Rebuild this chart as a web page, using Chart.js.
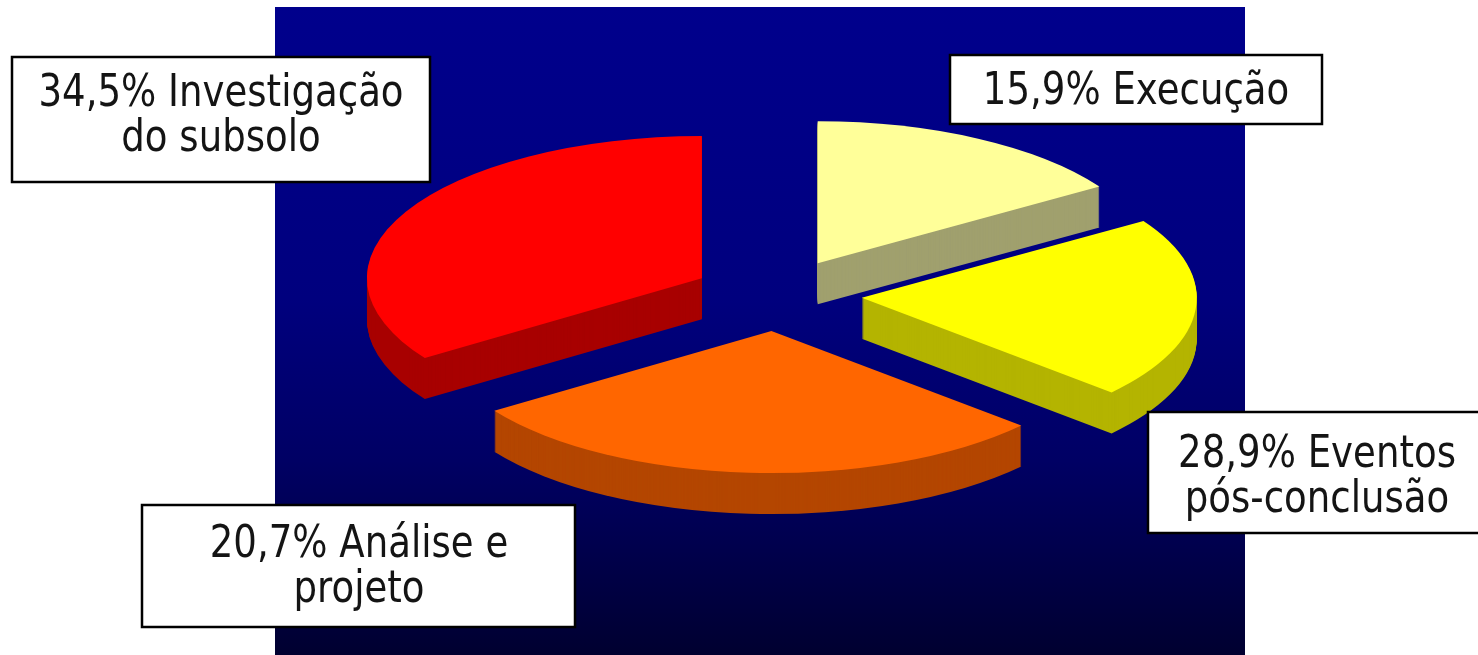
<!DOCTYPE html>
<html>
<head>
<meta charset="utf-8">
<script src="https://cdn.jsdelivr.net/npm/chart.js@4/dist/chart.umd.min.js"></script>
<style>
  html, body { margin: 0; padding: 0; background: #ffffff; }
  #c { display: block; }
</style>
</head>
<body>
<canvas id="c" width="1478" height="655"></canvas>
<script>
// ---- data ----
// slices clockwise from 12 o'clock, as named by the callouts beside them
const categories = ['Execução', 'Eventos\npós-conclusão', 'Análise e\nprojeto', 'Investigação\ndo subsolo'];
// percentages printed in the callouts
const labelShares = [15.9, 28.9, 20.7, 34.5];
// slice sizes as drawn (light yellow, yellow, orange, red)
const drawnShares = [15.9, 20.7, 28.9, 34.5];

// ---- styles ----
const topColors  = ['#FFFF99', '#FFFF00', '#FF6600', '#FF0000'];
const sideColors = ['#A0A06E', '#B4B400', '#B44600', '#A80000'];
const calloutBoxes = [
  { x: 950,  y: 55,  w: 372, h: 69,  cx: 1136, base: [104] },
  { x: 1148, y: 412, w: 345, h: 121, cx: 1317, base: [467, 512] },
  { x: 142,  y: 505, w: 433, h: 122, cx: 359,  base: [557, 602] },
  { x: 12,   y: 57,  w: 418, h: 125, cx: 221,  base: [106, 151] }
];

function fmtPct(v) { return v.toFixed(1).replace('.', ',') + '%'; }

const backgroundPanel = {
  id: 'backgroundPanel',
  beforeDraw(chart) {
    const ctx = chart.ctx;
    ctx.save();
    ctx.fillStyle = '#ffffff';
    ctx.fillRect(0, 0, chart.width, chart.height);
    const top = 7, left = 275, right = 1245, bottom = chart.height;
    const g = ctx.createLinearGradient(0, top, 0, bottom);
    g.addColorStop(0, 'rgb(0,0,140)');
    g.addColorStop(0.45, 'rgb(0,0,126)');
    g.addColorStop(0.7, 'rgb(0,0,100)');
    g.addColorStop(1, 'rgb(0,0,48)');
    ctx.fillStyle = g;
    ctx.fillRect(left, top, right - left, bottom - top);
    ctx.restore();
  }
};

const pie3d = {
  id: 'pie3d',
  beforeDatasetsDraw(chart, args, opts) {
    const ctx = chart.ctx;
    const meta = chart.getDatasetMeta(0);
    const arcs = meta.data;
    if (!arcs.length) return;
    const cx = arcs[0].x, cy = arcs[0].y;
    const sides = chart.data.datasets[0].sideColor;
    const drawArc = (arc, dy, color) => {
      const p = arc.getProps(['startAngle', 'endAngle'], true);
      const mid = (p.startAngle + p.endAngle) / 2;
      ctx.save();
      ctx.translate(0, dy);
      ctx.translate(cx, cy);
      ctx.scale(1, opts.tilt);
      ctx.translate(-cx, -cy);
      ctx.translate(Math.cos(mid) * opts.explode, Math.sin(mid) * opts.explode);
      if (color) {
        const o = arc.options;
        arc.options = Object.assign({}, o, { backgroundColor: color });
        arc.draw(ctx);
        arc.options = o;
      } else {
        arc.draw(ctx);
      }
      ctx.restore();
    };
    for (let dy = opts.depth; dy >= 1; dy--) {
      arcs.forEach((a, i) => drawArc(a, dy, sides[i]));
    }
    arcs.forEach(a => drawArc(a, 0, null));
    return false;
  }
};

const callouts = {
  id: 'callouts',
  afterDraw(chart) {
    const ctx = chart.ctx;
    ctx.save();
    calloutBoxes.forEach((b, i) => {
      ctx.fillStyle = '#ffffff';
      ctx.fillRect(b.x, b.y, b.w, b.h);
      ctx.strokeStyle = '#000000';
      ctx.lineWidth = 2.5;
      ctx.strokeRect(b.x, b.y, b.w, b.h);
      const text = fmtPct(labelShares[i]) + ' ' + categories[i];
      const lines = text.split('\n');
      ctx.fillStyle = '#141414';
      ctx.font = '44px "DejaVu Sans"';
      ctx.textAlign = 'center';
      ctx.textBaseline = 'alphabetic';
      lines.forEach((ln, j) => {
        ctx.save();
        ctx.translate(b.cx, b.base[j]);
        ctx.scale(0.843, 1);
        ctx.fillText(ln, 0, 0);
        ctx.restore();
      });
    });
    ctx.restore();
  }
};

new Chart(document.getElementById('c'), {
  type: 'pie',
  data: {
    labels: categories.map(c => c.replace('\n', ' ')),
    datasets: [{
      data: drawnShares,
      backgroundColor: topColors,
      sideColor: sideColors,
      borderWidth: 0,
      clip: false
    }]
  },
  options: {
    responsive: false,
    devicePixelRatio: 1,
    animation: false,
    radius: 335,
    layout: { padding: { left: 76, right: 0, top: 0, bottom: 65 } },
    plugins: {
      legend: { display: false },
      tooltip: { enabled: false },
      pie3d: { tilt: 0.424, explode: 85, depth: 41 }
    }
  },
  plugins: [backgroundPanel, pie3d, callouts]
});
</script>
</body>
</html>
